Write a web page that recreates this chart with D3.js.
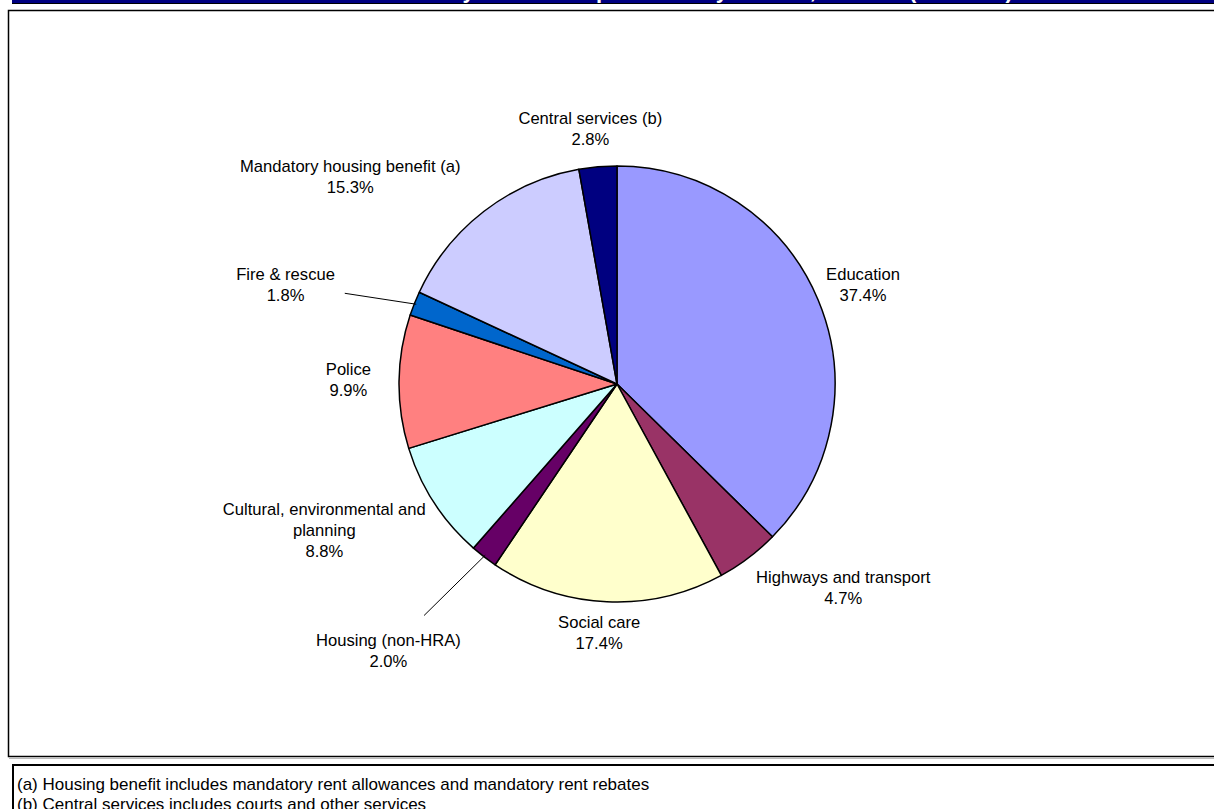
<!DOCTYPE html>
<html>
<head>
<meta charset="utf-8">
<script src="https://cdn.jsdelivr.net/npm/d3@7"></script>
<style>
  body { margin: 0; background: #fff; }
  svg { display: block; font-family: "Liberation Sans", Arial, sans-serif; }
</style>
</head>
<body>
<script>
var width = 1214
var height = 809

// data (share of spending, %)
var categories = ["Education", "Highways and transport", "Social care", "Housing (non-HRA)",
  "Cultural, environmental and planning", "Police", "Fire & rescue",
  "Mandatory housing benefit (a)", "Central services (b)"]
var shares = [37.4, 4.7, 17.4, 2.0, 8.8, 9.9, 1.8, 15.3, 2.8]
var colours = ["#9999FF", "#993366", "#FFFFCC", "#660066", "#CCFFFF",
  "#FF8080", "#0066CC", "#CCCCFF", "#000080"]
var footnotes = ["(a) Housing benefit includes mandatory rent allowances and mandatory rent rebates",
  "(b) Central services includes courts and other services"]
var title = "Local authority revenue expenditure by service, 2007-08 (£ million)"

// layout bits
var wrap = { "Cultural, environmental and planning": ["Cultural, environmental and", "planning"] }
var leaders = ["Fire & rescue", "Housing (non-HRA)"]
var nudge = {
  "Education": [-2, -2], "Highways and transport": [34, 2], "Social care": [-5, -4],
  "Housing (non-HRA)": [-43, 66], "Cultural, environmental and planning": [-13, 2],
  "Police": [-14, -2], "Fire & rescue": [-70, -6],
  "Mandatory housing benefit (a)": [-58, -7], "Central services (b)": [0, -3]
}
var cx = 617, cy = 384, r = 218
var fs = 16.6, lh = 21

var data = categories.map(function(c, i) { return { name: c, value: shares[i], colour: colours[i] } })

var svg = d3.select('body').append('svg')
  .attr('width', width)
  .attr('height', height)

// title band, mostly off the top of the picture
var clip = svg.append('clipPath').attr('id', 'band')
clip.append('rect').attr('x', 12).attr('y', 0).attr('width', width).attr('height', 3)
svg.append('rect').attr('x', 12).attr('y', -20).attr('width', width).attr('height', 23).attr('fill', '#000080')
svg.append('text')
  .attr('clip-path', 'url(#band)')
  .attr('x', 665).attr('y', -2)
  .attr('text-anchor', 'middle')
  .attr('font-size', 22).attr('font-weight', 'bold')
  .attr('fill', '#fff')
  .text(title)
svg.append('line').attr('x1', 12).attr('x2', width).attr('y1', 3.5).attr('y2', 3.5)
  .attr('stroke', '#000').attr('stroke-width', 1)

// chart frame
svg.append('rect')
  .attr('x', 8.5).attr('y', 10.5)
  .attr('width', width).attr('height', 746)
  .attr('fill', '#fff').attr('stroke', '#000').attr('stroke-width', 1.5)
svg.append('line').attr('x1', 9).attr('x2', width).attr('y1', 758.5).attr('y2', 758.5)
  .attr('stroke', '#bbb').attr('stroke-width', 1)

// pie
var pie = d3.pie().sort(null).value(function(d) { return d.value })
var arc = d3.arc().innerRadius(0).outerRadius(r)
var arcs = pie(data)

var g = svg.append('g').attr('transform', 'translate(' + cx + ',' + cy + ')')

g.selectAll('path')
  .data(arcs)
  .enter()
  .append('path')
  .attr('d', arc)
  .attr('fill', function(d) { return d.data.colour })
  .attr('stroke', '#000')
  .attr('stroke-width', 1.5)
  .attr('stroke-linejoin', 'round')

// labels
var labels = g.selectAll('g.lab')
  .data(arcs)
  .enter()
  .append('g')
  .attr('class', 'lab')

labels.each(function(d) {
  var lines = (wrap[d.data.name] || [d.data.name]).concat([d.data.value.toFixed(1) + '%'])
  var el = d3.select(this)
  var t = el.append('text')
    .attr('text-anchor', 'middle')
    .attr('font-size', fs)
    .attr('fill', '#000')
  lines.forEach(function(s, i) {
    t.append('tspan')
      .attr('x', 0)
      .attr('y', (i - (lines.length - 1) / 2) * lh + 6)
      .text(s)
  })
  var w = 0
  t.selectAll('tspan').each(function() { w = Math.max(w, this.getComputedTextLength()) })
  var h = lines.length * lh
  var a = (d.startAngle + d.endAngle) / 2
  var dx = Math.sin(a), dy = -Math.cos(a)
  var p = [dx * (r + 14), dy * (r + 14)]
  var n = nudge[d.data.name] || [0, 0]
  var lx = p[0] + dx * w / 2 + n[0]
  var ly = p[1] + dy * h / 2 + n[1]
  el.attr('transform', 'translate(' + lx + ',' + ly + ')')

  if (leaders.indexOf(d.data.name) >= 0) {
    // from slice edge to the label box
    var ex = dx * r, ey = dy * r
    var vx = ex - lx, vy = ey - ly
    var tt = Math.min((w / 2) / Math.abs(vx), (h / 2) / Math.abs(vy))
    var len = Math.sqrt(vx * vx + vy * vy)
    var gap = Math.abs(vx) * tt > w / 2 - 1 ? 10 : 20
    var sx = lx + vx * tt + vx / len * gap
    var sy = ly + vy * tt + vy / len * gap
    g.append('line')
      .attr('x1', sx).attr('y1', sy)
      .attr('x2', ex - 2 * dx).attr('y2', ey - 2 * dy)
      .attr('stroke', '#000').attr('stroke-width', 1)
  }
})

// footnote box
svg.append('rect')
  .attr('x', 13).attr('y', 765)
  .attr('width', width).attr('height', 60)
  .attr('fill', '#fff').attr('stroke', '#000').attr('stroke-width', 2)

svg.selectAll('text.fn')
  .data(footnotes)
  .enter()
  .append('text')
  .attr('class', 'fn')
  .attr('x', 17)
  .attr('y', function(d, i) { return 790 + i * 19.5 })
  .attr('font-size', 17)
  .attr('fill', '#000')
  .text(function(d) { return d })
</script>
</body>
</html>
